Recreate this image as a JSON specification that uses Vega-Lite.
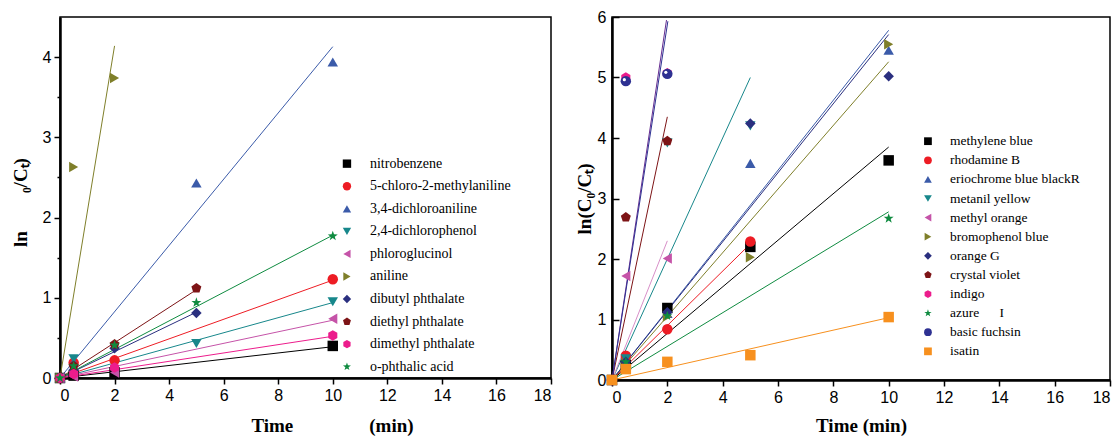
{
  "$schema": "https://vega.github.io/schema/vega-lite/v6.json",
  "background": "white",
  "padding": {"left": 10, "top": 8, "right": 0, "bottom": 0},
  "spacing": 21,
  "resolve": {
    "scale": {"color": "independent", "shape": "independent", "stroke": "independent", "x": "independent", "y": "independent"}
  },
  "config": {
    "view": {"stroke": "black", "strokeWidth": 1.5},
    "axis": {
      "grid": false,
      "domainColor": "black",
      "domainWidth": 2.5,
      "tickColor": "black",
      "tickWidth": 1.5,
      "labelFont": "Liberation Sans",
      "labelFontSize": 16,
      "labelColor": "black",
      "labelOverlap": false,
      "titleFont": "Liberation Serif",
      "titleFontSize": 19,
      "titleFontWeight": "bold",
      "titleColor": "black"
    }
  },
  "datasets": {
    "leftLegend": [
      {"series": "nitrobenzene"}, {"series": "5-chloro-2-methylaniline"}, {"series": "3,4-dichloroaniline"}, {"series": "2,4-dichlorophenol"}, {"series": "phloroglucinol"},
      {"series": "aniline"}, {"series": "dibutyl phthalate"}, {"series": "diethyl phthalate"}, {"series": "dimethyl phthalate"}, {"series": "o-phthalic acid"}
    ],
    "rightLegend": [
      {"series": "methylene blue"}, {"series": "rhodamine B"}, {"series": "eriochrome blue blackR"}, {"series": "metanil yellow"}, {"series": "methyl orange"}, {"series": "bromophenol blue"},
      {"series": "orange G"}, {"series": "crystal violet"}, {"series": "indigo"}, {"series": "azure\u00a0\u00a0\u00a0\u00a0\u00a0\u00a0I"}, {"series": "basic fuchsin"}, {"series": "isatin"}
    ],
    "leftPts": [
      {"series": "nitrobenzene", "t": 0, "v": 0}, {"series": "nitrobenzene", "t": 0.5, "v": 0.03}, {"series": "nitrobenzene", "t": 2, "v": 0.07}, {"series": "nitrobenzene", "t": 10, "v": 0.40},
      {"series": "5-chloro-2-methylaniline", "t": 0, "v": 0}, {"series": "5-chloro-2-methylaniline", "t": 0.5, "v": 0.19}, {"series": "5-chloro-2-methylaniline", "t": 2, "v": 0.22}, {"series": "5-chloro-2-methylaniline", "t": 10, "v": 1.23},
      {"series": "3,4-dichloroaniline", "t": 0, "v": 0}, {"series": "3,4-dichloroaniline", "t": 0.5, "v": 0.2}, {"series": "3,4-dichloroaniline", "t": 5, "v": 2.43}, {"series": "3,4-dichloroaniline", "t": 10, "v": 3.94},
      {"series": "2,4-dichlorophenol", "t": 0, "v": 0}, {"series": "2,4-dichlorophenol", "t": 0.5, "v": 0.24}, {"series": "2,4-dichlorophenol", "t": 5, "v": 0.43}, {"series": "2,4-dichlorophenol", "t": 10, "v": 0.95},
      {"series": "phloroglucinol", "t": 0, "v": 0}, {"series": "phloroglucinol", "t": 0.5, "v": 0.02}, {"series": "phloroglucinol", "t": 2, "v": 0.07}, {"series": "phloroglucinol", "t": 10, "v": 0.74},
      {"series": "aniline", "t": 0, "v": 0}, {"series": "aniline", "t": 0.5, "v": 2.63}, {"series": "aniline", "t": 2, "v": 3.74},
      {"series": "dibutyl phthalate", "t": 0, "v": 0}, {"series": "dibutyl phthalate", "t": 0.5, "v": 0.1}, {"series": "dibutyl phthalate", "t": 2, "v": 0.37}, {"series": "dibutyl phthalate", "t": 5, "v": 0.81},
      {"series": "diethyl phthalate", "t": 0, "v": 0}, {"series": "diethyl phthalate", "t": 0.5, "v": 0.15}, {"series": "diethyl phthalate", "t": 2, "v": 0.42}, {"series": "diethyl phthalate", "t": 5, "v": 1.12},
      {"series": "dimethyl phthalate", "t": 0, "v": 0}, {"series": "dimethyl phthalate", "t": 0.5, "v": 0.05}, {"series": "dimethyl phthalate", "t": 2, "v": 0.13}, {"series": "dimethyl phthalate", "t": 10, "v": 0.53},
      {"series": "o-phthalic acid", "t": 0, "v": 0}, {"series": "o-phthalic acid", "t": 0.5, "v": 0.15}, {"series": "o-phthalic acid", "t": 2, "v": 0.41}, {"series": "o-phthalic acid", "t": 5, "v": 0.94}, {"series": "o-phthalic acid", "t": 10, "v": 1.77}
    ],
    "leftFits": [
      {"series": "nitrobenzene", "t": 0, "v": 0}, {"series": "nitrobenzene", "t": 10, "v": 0.39},
      {"series": "5-chloro-2-methylaniline", "t": 0, "v": 0}, {"series": "5-chloro-2-methylaniline", "t": 10, "v": 1.22},
      {"series": "3,4-dichloroaniline", "t": 0, "v": 0}, {"series": "3,4-dichloroaniline", "t": 10, "v": 4.13},
      {"series": "2,4-dichlorophenol", "t": 0, "v": 0}, {"series": "2,4-dichlorophenol", "t": 10, "v": 0.94},
      {"series": "phloroglucinol", "t": 0, "v": 0}, {"series": "phloroglucinol", "t": 10, "v": 0.72},
      {"series": "aniline", "t": 0, "v": 0}, {"series": "aniline", "t": 2, "v": 4.14},
      {"series": "dibutyl phthalate", "t": 0, "v": 0}, {"series": "dibutyl phthalate", "t": 5, "v": 0.82},
      {"series": "diethyl phthalate", "t": 0, "v": 0}, {"series": "diethyl phthalate", "t": 5, "v": 1.1},
      {"series": "dimethyl phthalate", "t": 0, "v": 0}, {"series": "dimethyl phthalate", "t": 10, "v": 0.52},
      {"series": "o-phthalic acid", "t": 0, "v": 0}, {"series": "o-phthalic acid", "t": 10, "v": 1.78}
    ],
    "rightPts": [
      {"series": "methylene blue", "t": 0, "v": 0}, {"series": "methylene blue", "t": 0.5, "v": 0.25}, {"series": "methylene blue", "t": 2, "v": 1.19}, {"series": "methylene blue", "t": 5, "v": 2.2}, {"series": "methylene blue", "t": 10, "v": 3.63},
      {"series": "rhodamine B", "t": 0, "v": 0}, {"series": "rhodamine B", "t": 0.5, "v": 0.4}, {"series": "rhodamine B", "t": 2, "v": 0.84}, {"series": "rhodamine B", "t": 5, "v": 2.29},
      {"series": "eriochrome blue blackR", "t": 0, "v": 0}, {"series": "eriochrome blue blackR", "t": 0.5, "v": 0.3}, {"series": "eriochrome blue blackR", "t": 2, "v": 1.1}, {"series": "eriochrome blue blackR", "t": 5, "v": 3.58}, {"series": "eriochrome blue blackR", "t": 10, "v": 5.45},
      {"series": "metanil yellow", "t": 0, "v": 0}, {"series": "metanil yellow", "t": 0.5, "v": 0.35}, {"series": "metanil yellow", "t": 2, "v": 3.92}, {"series": "metanil yellow", "t": 5, "v": 4.2},
      {"series": "methyl orange", "t": 0, "v": 0}, {"series": "methyl orange", "t": 0.5, "v": 1.72}, {"series": "methyl orange", "t": 2, "v": 2.01},
      {"series": "bromophenol blue", "t": 0, "v": 0}, {"series": "bromophenol blue", "t": 0.5, "v": 0.28}, {"series": "bromophenol blue", "t": 2, "v": 1.05}, {"series": "bromophenol blue", "t": 5, "v": 2.03}, {"series": "bromophenol blue", "t": 10, "v": 5.55},
      {"series": "orange G", "t": 0, "v": 0}, {"series": "orange G", "t": 0.5, "v": 0.3}, {"series": "orange G", "t": 2, "v": 1.12}, {"series": "orange G", "t": 5, "v": 4.24}, {"series": "orange G", "t": 10, "v": 5.02},
      {"series": "crystal violet", "t": 0, "v": 0}, {"series": "crystal violet", "t": 0.5, "v": 2.69}, {"series": "crystal violet", "t": 2, "v": 3.95},
      {"series": "indigo", "t": 0, "v": 0}, {"series": "indigo", "t": 0.5, "v": 5.0}, {"series": "indigo", "t": 2, "v": 5.07},
      {"series": "azure\u00a0\u00a0\u00a0\u00a0\u00a0\u00a0I", "t": 0, "v": 0}, {"series": "azure\u00a0\u00a0\u00a0\u00a0\u00a0\u00a0I", "t": 0.5, "v": 0.3}, {"series": "azure\u00a0\u00a0\u00a0\u00a0\u00a0\u00a0I", "t": 2, "v": 1.06}, {"series": "azure\u00a0\u00a0\u00a0\u00a0\u00a0\u00a0I", "t": 10, "v": 2.67},
      {"series": "basic fuchsin", "t": 0, "v": 0}, {"series": "basic fuchsin", "t": 0.5, "v": 4.94}, {"series": "basic fuchsin", "t": 2, "v": 5.06},
      {"series": "isatin", "t": 0, "v": 0}, {"series": "isatin", "t": 0.5, "v": 0.18}, {"series": "isatin", "t": 2, "v": 0.3}, {"series": "isatin", "t": 5, "v": 0.41}, {"series": "isatin", "t": 10, "v": 1.04}
    ],
    "rightFits": [
      {"series": "methylene blue", "t": 0, "v": 0}, {"series": "methylene blue", "t": 10, "v": 3.85},
      {"series": "rhodamine B", "t": 0, "v": 0}, {"series": "rhodamine B", "t": 5, "v": 2.25},
      {"series": "eriochrome blue blackR", "t": 0, "v": 0}, {"series": "eriochrome blue blackR", "t": 10, "v": 5.78},
      {"series": "metanil yellow", "t": 0, "v": 0}, {"series": "metanil yellow", "t": 5, "v": 5.0},
      {"series": "methyl orange", "t": 0, "v": 0}, {"series": "methyl orange", "t": 2, "v": 2.3},
      {"series": "bromophenol blue", "t": 0, "v": 0}, {"series": "bromophenol blue", "t": 10, "v": 5.26},
      {"series": "orange G", "t": 0, "v": 0}, {"series": "orange G", "t": 10, "v": 5.71},
      {"series": "crystal violet", "t": 0, "v": 0}, {"series": "crystal violet", "t": 2, "v": 4.35},
      {"series": "indigo", "t": 0, "v": 0}, {"series": "indigo", "t": 1.97, "v": 5.95},
      {"series": "azure\u00a0\u00a0\u00a0\u00a0\u00a0\u00a0I", "t": 0, "v": 0}, {"series": "azure\u00a0\u00a0\u00a0\u00a0\u00a0\u00a0I", "t": 10, "v": 2.78},
      {"series": "basic fuchsin", "t": 0, "v": 0}, {"series": "basic fuchsin", "t": 2.02, "v": 5.93},
      {"series": "isatin", "t": 0, "v": 0}, {"series": "isatin", "t": 10, "v": 1.03}
    ]
  },
  "hconcat": [
    {
      "width": 491,
      "height": 361,
      "resolve": {"scale": {"y": "independent"}},
      "layer": [
        {
          "layer": [
            {
              "data": {"name": "leftFits"},
              "mark": {"type": "line", "strokeWidth": 1, "clip": true},
              "encoding": {
                "x": {
                  "field": "t", "type": "quantitative",
                  "scale": {"domain": [0, 18], "nice": false, "zero": false},
                  "axis": {
                    "values": [0,1,2,3,4,5,6,7,8,9,10,11,12,13,14,15,16,17,18],
                    "labelExpr": "datum.value % 2 === 0 ? format(datum.value, 'd') : ''",
                    "tickSize": {"condition": {"test": "datum.value % 2 === 0", "value": 6}, "value": 3},
                    "labelPadding": 3,
                    "title": "Time\u2003\u2003\u2003\u2003(min)",
                    "titleX": 272,
                    "titleY": 53,
                    "titleBaseline": "alphabetic"
                  }
                },
                "y": {
                  "field": "v", "type": "quantitative",
                  "scale": {"domain": [0, 4.5], "nice": false},
                  "axis": {
                    "values": [0,0.5,1,1.5,2,2.5,3,3.5,4],
                    "labelExpr": "datum.value % 1 === 0 ? format(datum.value, 'd') : ''",
                    "tickSize": {"condition": {"test": "datum.value % 1 === 0", "value": 6}, "value": 3},
                    "labelPadding": 3,
                    "title": "ln\u2003\u2003₀/Cₜ)",
                    "titleX": -34,
                    "titleY": 185,
                    "titleBaseline": "alphabetic"
                  }
                },
                "stroke": {
                  "field": "series", "type": "nominal",
                  "scale": {
                    "domain": ["nitrobenzene", "5-chloro-2-methylaniline", "3,4-dichloroaniline", "2,4-dichlorophenol", "phloroglucinol", "aniline", "dibutyl phthalate", "diethyl phthalate", "dimethyl phthalate", "o-phthalic acid"],
                    "range": ["#000000", "#ED1C24", "#3B5BA9", "#17878B", "#C553A8", "#7F7F2A", "#2A2F7F", "#7D1416", "#EC1C8C", "#0F8B40"]
                  },
                  "legend": null
                }
              }
            },
            {
              "data": {"name": "leftPts"},
              "mark": {"type": "point", "filled": true, "size": 110, "opacity": 1},
              "encoding": {
                "x": {"field": "t", "type": "quantitative"},
                "y": {"field": "v", "type": "quantitative"},
                "color": {
                  "field": "series", "type": "nominal",
                  "scale": {
                    "domain": ["nitrobenzene", "5-chloro-2-methylaniline", "3,4-dichloroaniline", "2,4-dichlorophenol", "phloroglucinol", "aniline", "dibutyl phthalate", "diethyl phthalate", "dimethyl phthalate", "o-phthalic acid"],
                    "range": ["#000000", "#ED1C24", "#3B5BA9", "#17878B", "#C553A8", "#7F7F2A", "#2A2F7F", "#7D1416", "#EC1C8C", "#0F8B40"]
                  },
                  "legend": null
                },
                "shape": {
                  "field": "series", "type": "nominal",
                  "scale": {
                    "domain": ["nitrobenzene", "5-chloro-2-methylaniline", "3,4-dichloroaniline", "2,4-dichlorophenol", "phloroglucinol", "aniline", "dibutyl phthalate", "diethyl phthalate", "dimethyl phthalate", "o-phthalic acid"],
                    "range": ["square", "circle", "triangle-up", "triangle-down", "triangle-left", "triangle-right", "diamond",
                      "M0,-1L0.951,-0.309L0.588,0.809L-0.588,0.809L-0.951,-0.309Z",
                      "M0,-1L0.866,-0.5L0.866,0.5L0,1L-0.866,0.5L-0.866,-0.5Z",
                      "M0,-1L0.235,-0.324L0.951,-0.309L0.38,0.124L0.588,0.809L0,0.4L-0.588,0.809L-0.38,0.124L-0.951,-0.309L-0.235,-0.324Z"]
                  },
                  "legend": null
                }
              }
            },
            {
              "mark": {"type": "rule", "color": "black", "strokeWidth": 3},
              "encoding": {"y": {"datum": 4.5}}
            }
          ]
        },
        {
          "data": {"name": "leftLegend"},
          "encoding": {
            "x": {"datum": 10.52, "type": "quantitative"},
            "y": {
              "field": "series", "type": "nominal",
              "scale": {"type": "point", "domain": ["_1", "_2", "_3", "_4", "_5", "_6", "nitrobenzene", "5-chloro-2-methylaniline", "3,4-dichloroaniline", "2,4-dichlorophenol", "phloroglucinol", "aniline", "dibutyl phthalate", "diethyl phthalate", "dimethyl phthalate", "o-phthalic acid"]},
              "axis": null
            }
          },
          "layer": [
            {
              "mark": {"type": "point", "filled": true, "size": 70, "opacity": 1},
              "encoding": {
                "color": {"field": "series", "type": "nominal", "legend": null},
                "shape": {"field": "series", "type": "nominal", "legend": null}
              }
            },
            {
              "mark": {"type": "text", "align": "left", "baseline": "middle", "dx": 23, "font": "Liberation Serif", "fontSize": 14, "color": "black"},
              "encoding": {"text": {"field": "series"}}
            }
          ]
        }
      ]
    },
    {
      "width": 498,
      "height": 363,
      "resolve": {"scale": {"y": "independent"}},
      "layer": [
        {
          "layer": [
            {
              "data": {"name": "rightFits"},
              "mark": {"type": "line", "strokeWidth": 1, "clip": true},
              "encoding": {
                "x": {
                  "field": "t", "type": "quantitative",
                  "scale": {"domain": [0, 18], "nice": false, "zero": false},
                  "axis": {
                    "values": [0,1,2,3,4,5,6,7,8,9,10,11,12,13,14,15,16,17,18],
                    "labelExpr": "datum.value % 2 === 0 ? format(datum.value, 'd') : ''",
                    "tickSize": {"condition": {"test": "datum.value % 2 === 0", "value": 6}, "value": 3},
                    "labelPadding": 3,
                    "title": "Time (min)",
                    "titleY": 51,
                    "titleBaseline": "alphabetic"
                  }
                },
                "y": {
                  "field": "v", "type": "quantitative",
                  "scale": {"domain": [0, 6], "nice": false},
                  "axis": {
                    "values": [0,0.5,1,1.5,2,2.5,3,3.5,4,4.5,5,5.5,6],
                    "labelExpr": "datum.value % 1 === 0 ? format(datum.value, 'd') : ''",
                    "tickSize": {"condition": {"test": "datum.value % 1 === 0", "value": -7}, "value": -4},
                    "labelPadding": 13,
                    "title": "ln(C₀/Cₜ)",
                    "titleX": -22,
                    "titleBaseline": "alphabetic"
                  }
                },
                "stroke": {
                  "field": "series", "type": "nominal",
                  "scale": {
                    "domain": ["methylene blue", "rhodamine B", "eriochrome blue blackR", "metanil yellow", "methyl orange", "bromophenol blue", "orange G", "crystal violet", "indigo", "azure\u00a0\u00a0\u00a0\u00a0\u00a0\u00a0I", "basic fuchsin", "isatin"],
                    "range": ["#000000", "#ED1C24", "#3B5BA9", "#17878B", "#D88FC8", "#7F7F2A", "#2A2F7F", "#7D1416", "#662D91", "#0F8B40", "#2E3192", "#F7901E"]
                  },
                  "legend": null
                }
              }
            },
            {
              "data": {"name": "rightPts"},
              "mark": {"type": "point", "filled": true, "size": 110, "opacity": 1},
              "encoding": {
                "x": {"field": "t", "type": "quantitative"},
                "y": {"field": "v", "type": "quantitative"},
                "color": {
                  "field": "series", "type": "nominal",
                  "scale": {
                    "domain": ["methylene blue", "rhodamine B", "eriochrome blue blackR", "metanil yellow", "methyl orange", "bromophenol blue", "orange G", "crystal violet", "indigo", "azure\u00a0\u00a0\u00a0\u00a0\u00a0\u00a0I", "basic fuchsin", "isatin"],
                    "range": ["#000000", "#ED1C24", "#3B5BA9", "#17878B", "#C553A8", "#7F7F2A", "#2A2F7F", "#7D1416", "#EC1C8C", "#0F8B40", "#2E3192", "#F7901E"]
                  },
                  "legend": null
                },
                "shape": {
                  "field": "series", "type": "nominal",
                  "scale": {
                    "domain": ["methylene blue", "rhodamine B", "eriochrome blue blackR", "metanil yellow", "methyl orange", "bromophenol blue", "orange G", "crystal violet", "indigo", "azure\u00a0\u00a0\u00a0\u00a0\u00a0\u00a0I", "basic fuchsin", "isatin"],
                    "range": ["square", "circle", "triangle-up", "triangle-down", "triangle-left", "triangle-right", "diamond",
                      "M0,-1L0.951,-0.309L0.588,0.809L-0.588,0.809L-0.951,-0.309Z",
                      "M0,-1L0.866,-0.5L0.866,0.5L0,1L-0.866,0.5L-0.866,-0.5Z",
                      "M0,-1L0.235,-0.324L0.951,-0.309L0.38,0.124L0.588,0.809L0,0.4L-0.588,0.809L-0.38,0.124L-0.951,-0.309L-0.235,-0.324Z",
                      "circle", "square"]
                  },
                  "legend": null
                }
              }
            },
            {
              "data": {"name": "rightPts"},
              "transform": [{"filter": "datum.series === 'basic fuchsin' && datum.t > 0"}],
              "mark": {"type": "point", "filled": true, "size": 10, "color": "white", "opacity": 1, "xOffset": -1.5, "yOffset": -1.5},
              "encoding": {
                "x": {"field": "t", "type": "quantitative"},
                "y": {"field": "v", "type": "quantitative"}
              }
            },
            {
              "mark": {"type": "rule", "color": "black", "strokeWidth": 3},
              "encoding": {"y": {"datum": 6}}
            }
          ]
        },
        {
          "data": {"name": "rightLegend"},
          "encoding": {
            "x": {"datum": 11.42, "type": "quantitative"},
            "y": {
              "field": "series", "type": "nominal",
              "scale": {"type": "point", "domain": ["_1", "_2", "_3", "_4", "_5", "_6", "methylene blue", "rhodamine B", "eriochrome blue blackR", "metanil yellow", "methyl orange", "bromophenol blue", "orange G", "crystal violet", "indigo", "azure\u00a0\u00a0\u00a0\u00a0\u00a0\u00a0I", "basic fuchsin", "isatin", "_7"]},
              "axis": null
            }
          },
          "layer": [
            {
              "mark": {"type": "point", "filled": true, "size": 60, "opacity": 1},
              "encoding": {
                "color": {"field": "series", "type": "nominal", "legend": null},
                "shape": {"field": "series", "type": "nominal", "legend": null}
              }
            },
            {
              "mark": {"type": "text", "align": "left", "baseline": "middle", "dx": 22, "font": "Liberation Serif", "fontSize": 13.5, "color": "black"},
              "encoding": {"text": {"field": "series"}}
            }
          ]
        }
      ]
    }
  ]
}
